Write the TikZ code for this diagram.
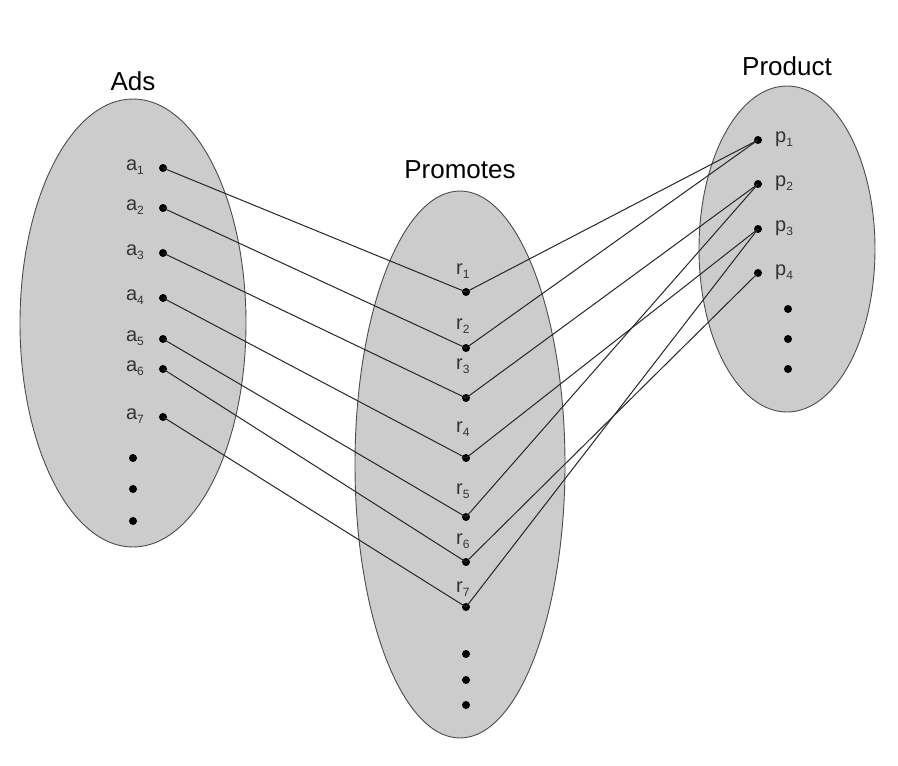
\documentclass[tikz,border=0pt]{standalone}
\usepackage{fontspec}
\setmainfont{Liberation Sans}
\newcommand{\idx}[1]{\raisebox{-0.2em}{\fontsize{12}{13}\selectfont #1}}

\begin{document}
\begin{tikzpicture}[x=1pt, y=-1pt,
	dot/.style={circle, fill=black, inner sep=0pt, minimum size=8pt},
	set/.style={fill=black!20, draw=black!70, line width=0.9pt},
	link/.style={draw=black!85, line width=1pt},
	title/.style={anchor=base, font=\fontsize{26}{30}\selectfont},
	lab/.style={inner sep=0pt, text=black!80, font=\fontsize{20}{24}\selectfont}]
	\useasboundingbox (0,0) rectangle (898,766);
	\draw[set] (133,323) ellipse [x radius=113pt, y radius=224pt];
	\draw[set] (460,464.5) ellipse [x radius=105pt, y radius=273.5pt];
	\draw[set] (787,249) ellipse [x radius=88pt, y radius=163pt];
	\node[title] (ads) at (133,90) {Ads};
	\node[title] (promotes) at (460,178) {Promotes};
	\node[title] (product) at (787,75) {Product};
	\foreach \i/\y in {1/168,2/208,3/253,4/298,5/339,6/369,7/417} {
		\node[dot] (a\i) at (163,\y) {};
		\node[lab, anchor=mid east] (la\i) at (144,\y) {a\idx{\i}};
	}
	\foreach \y [count=\k] in {458,489,521}
		\node[dot] (am\k) at (133,\y) {};
	\foreach \i/\y/\l in {1/292/272,2/348/327,3/398/367,4/458/430,5/517/492,6/562/542,7/607/590} {
		\node[dot] (r\i) at (466,\y) {};
		\node[lab, anchor=mid west] (lr\i) at (456,\l) {r\idx{\i}};
	}
	\foreach \y [count=\k] in {654,680,705}
		\node[dot] (rm\k) at (466,\y) {};
	\foreach \i/\y in {1/140,2/184,3/229,4/273} {
		\node[dot] (p\i) at (758,\y) {};
		\node[lab, anchor=mid west] (lp\i) at (775,\y) {p\idx{\i}};
	}
	\foreach \y [count=\k] in {309,339,369}
		\node[dot] (pm\k) at (788,\y) {};
	% ads to promotes, promotes to product
	\foreach \i in {1,...,7}
		\draw[link] (a\i.center) -- (r\i.center);
	\foreach \i/\j in {1/1,2/1,3/2,4/3,5/2,6/4,7/3}
		\draw[link] (r\i.center) -- (p\j.center);
\end{tikzpicture}
\end{document}
